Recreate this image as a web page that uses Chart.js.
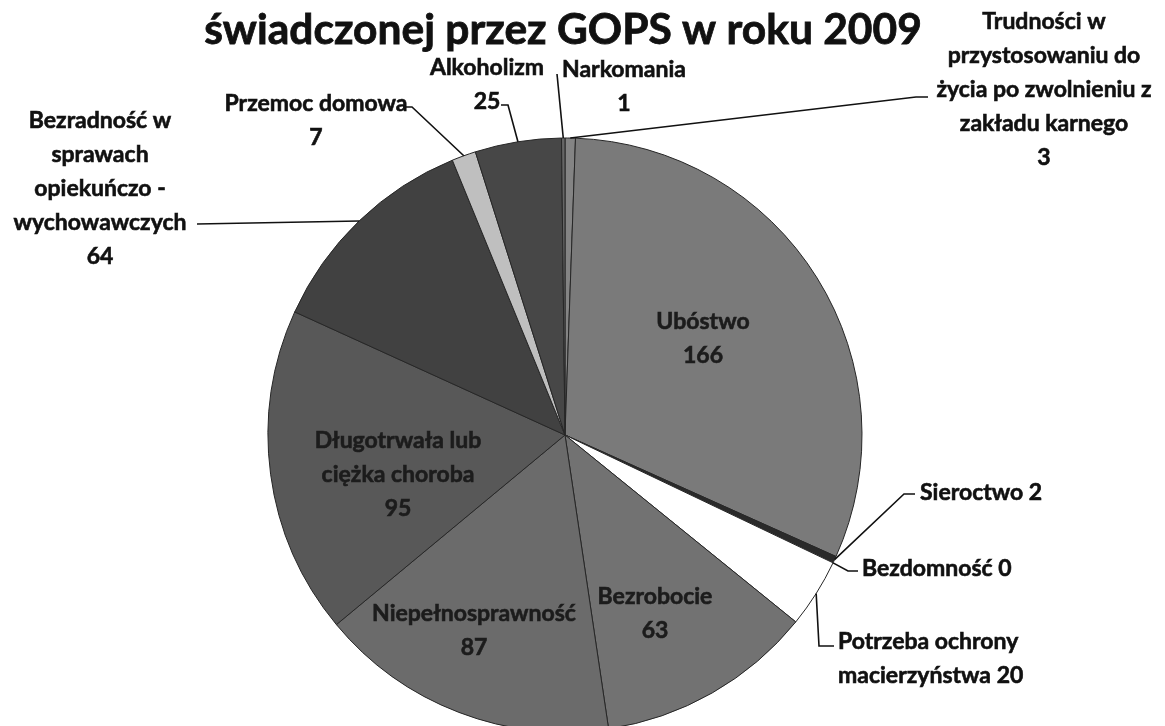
<!DOCTYPE html>
<html>
<head>
<meta charset="utf-8">
<script src="https://cdn.jsdelivr.net/npm/chart.js@4"></script>
<style>
  html, body { margin: 0; padding: 0; background: #fff; overflow: hidden; }
  #wrap { position: absolute; left: 0; top: 0; width: 1165px; height: 870px; }
</style>
</head>
<body>
<div id="wrap"><canvas id="pieChart" width="1165" height="870"></canvas></div>
<script>
// dane (od godziny 12, zgodnie z ruchem wskazówek zegara)
const categoryLines = [
    ['Trudności w', 'przystosowaniu do', 'życia po zwolnieniu z', 'zakładu karnego'],
    ['Ubóstwo'],
    ['Sieroctwo'],
    ['Bezdomność'],
    ['Potrzeba ochrony', 'macierzyństwa'],
    ['Bezrobocie'],
    ['Niepełnosprawność'],
    ['Długotrwała lub', 'ciężka choroba'],
    ['Bezradność w', 'sprawach', 'opiekuńczo -', 'wychowawczych'],
    ['Przemoc domowa'],
    ['Alkoholizm'],
    ['Narkomania']
];
const categories = categoryLines.map(l => l.join(' '));
const values = [3, 166, 2, 0, 20, 63, 87, 95, 64, 7, 25, 1];
const titleText = 'świadczonej przez GOPS w roku 2009';

const sliceColors = ['#848484', '#7a7a7a', '#2a2a2a', '#555555', '#ffffff', '#727272',
                     '#6b6b6b', '#585858', '#414141', '#bfbfbf', '#474747', '#666666'];

// rozmieszczenie etykiet (x, y = środek pierwszej linii)
const labelLayout = [
    { x: 1044, y: 22, align: 'center', inline: false, leader: [[916, 97], [928, 97]] },
    { x: 703, y: 322, inside: true },
    { x: 920, y: 493, align: 'left', inline: true, leader: [[904, 494], [915, 494]] },
    { x: 862, y: 569, align: 'left', inline: true, leader: [[848, 571], [858, 571]] },
    { x: 838, y: 642, align: 'left', inline: true, leader: [[819, 646], [834, 646]] },
    { x: 655, y: 597, inside: true },
    { x: 474, y: 614, inside: true },
    { x: 398, y: 441, inside: true },
    { x: 100, y: 121, align: 'center', inline: false, leader: [[197, 224]] },
    { x: 316, y: 104, align: 'center', inline: false, leader: [[412, 107], [403, 107]] },
    { x: 487, y: 68, align: 'center', inline: false, leader: [[508, 105], [501, 105]] },
    { x: 624, y: 70, align: 'center', inline: false, leader: [[557, 74]] }
];

const FONT = 'Lato, "Open Sans", sans-serif';
const LINE_H = 34;

function drawText(ctx, t, x, y) {
    ctx.fillText(t, x, y);
    ctx.strokeText(t, x, y);
}

const labelsPlugin = {
    id: 'labelsPlugin',
    afterDraw(chart) {
        const ctx = chart.ctx;
        const arcs = chart.getDatasetMeta(0).data;
        ctx.save();

        // tytuł
        ctx.fillStyle = '#111';
        ctx.strokeStyle = '#111';
        ctx.lineWidth = 0.8;
        ctx.font = 'bold 42.5px ' + FONT;
        ctx.textAlign = 'center';
        ctx.textBaseline = 'middle';
        drawText(ctx, titleText, 563, 30);

        arcs.forEach((arc, i) => {
            const lay = labelLayout[i];
            const lines = categoryLines[i].slice();
            if (lay.inline) {
                lines[lines.length - 1] += ' ' + values[i];
            } else {
                lines.push(String(values[i]));
            }

            if (lay.inside) {
                ctx.font = 'bold 23px ' + FONT;
                ctx.fillStyle = '#1c1c1c';
                ctx.strokeStyle = '#1c1c1c';
                ctx.textAlign = 'center';
            } else {
                ctx.font = 'bold 23px ' + FONT;
                ctx.fillStyle = '#111';
                ctx.textAlign = lay.align;

                // linia odniesienia od krawędzi wycinka
                const mid = (arc.startAngle + arc.endAngle) / 2;
                const px = arc.x + Math.cos(mid) * arc.outerRadius;
                const py = arc.y + Math.sin(mid) * arc.outerRadius;
                ctx.strokeStyle = '#111';
                ctx.lineWidth = 1.6;
                ctx.beginPath();
                ctx.moveTo(px, py);
                lay.leader.forEach(p => ctx.lineTo(p[0], p[1]));
                ctx.stroke();
            }
            ctx.lineWidth = 0.6;
            lines.forEach((t, k) => drawText(ctx, t, lay.x, lay.y + k * LINE_H));
        });
        ctx.restore();
    }
};

new Chart(document.getElementById('pieChart'), {
    type: 'pie',
    data: {
        labels: categories,
        datasets: [{
            data: values,
            backgroundColor: sliceColors,
            borderColor: '#262626',
            borderWidth: 1
        }]
    },
    options: {
        responsive: false,
        devicePixelRatio: 1,
        animation: false,
        radius: 297,
        layout: { padding: { left: 0, right: 35, top: 0, bottom: 0 } },
        plugins: {
            legend: { display: false },
            tooltip: { enabled: false },
            title: { display: false }
        }
    },
    plugins: [labelsPlugin]
});
</script>
</body>
</html>
